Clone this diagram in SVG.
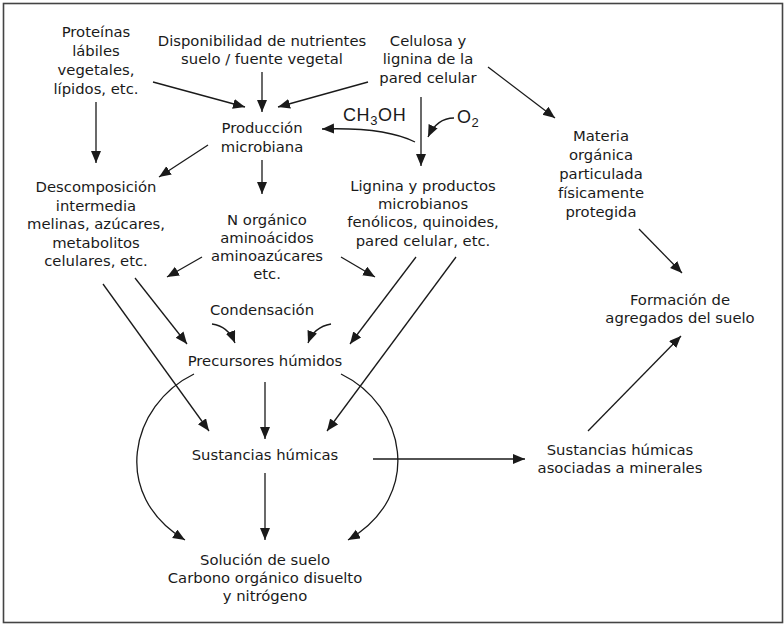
<svg xmlns="http://www.w3.org/2000/svg" width="784" height="625" viewBox="0 0 784 625">
  <style>
    .t { font-family: "DejaVu Sans", "Liberation Sans", sans-serif; font-size: 14.8px; fill: #1a1a1a; text-anchor: middle; }
    .chem { font-family: "Liberation Sans", Arial, sans-serif; font-size: 18px; letter-spacing: 0.6px; fill: #1a1a1a; }
    .c { fill: none; stroke: #1a1a1a; stroke-width: 1.3; marker-end: url(#ah); }
  </style>
  <defs>
    <marker id="ah" markerUnits="userSpaceOnUse" markerWidth="13" markerHeight="11" refX="12" refY="5" orient="auto">
      <path d="M0,0 L12,5 L0,10 z" fill="#1a1a1a"/>
    </marker>
  </defs>

  <rect x="3.5" y="3.5" width="779" height="619" fill="#ffffff" stroke="#444" stroke-width="1.6"/>

  <g id="proteinas">
    <text class="t" x="96" y="37">Proteínas</text>
    <text class="t" x="96" y="56">lábiles</text>
    <text class="t" x="96" y="75">vegetales,</text>
    <text class="t" x="96" y="94">lípidos, etc.</text>
  </g>
  <g id="disponibilidad">
    <text class="t" x="262" y="46">Disponibilidad de nutrientes</text>
    <text class="t" x="262" y="64">suelo / fuente vegetal</text>
  </g>
  <g id="celulosa">
    <text class="t" x="428" y="46">Celulosa y</text>
    <text class="t" x="428" y="64">lignina de la</text>
    <text class="t" x="428" y="83">pared celular</text>
  </g>
  <g id="produccion">
    <text class="t" x="262" y="133">Producción</text>
    <text class="t" x="262" y="152">microbiana</text>
  </g>
  <g id="ch3oh">
    <text class="chem" x="343" y="121">CH<tspan font-size="13" dy="4">3</tspan><tspan dy="-4">OH</tspan></text>
  </g>
  <g id="o2">
    <text class="chem" x="457" y="123">O<tspan font-size="13" dy="4">2</tspan></text>
  </g>
  <g id="materia">
    <text class="t" x="601" y="141">Materia</text>
    <text class="t" x="601" y="160">orgánica</text>
    <text class="t" x="601" y="179">particulada</text>
    <text class="t" x="601" y="198">físicamente</text>
    <text class="t" x="601" y="217">protegida</text>
  </g>
  <g id="descomposicion">
    <text class="t" x="96" y="192">Descomposición</text>
    <text class="t" x="96" y="211">intermedia</text>
    <text class="t" x="96" y="229">melinas, azúcares,</text>
    <text class="t" x="96" y="248">metabolitos</text>
    <text class="t" x="96" y="266">celulares, etc.</text>
  </g>
  <g id="n-organico">
    <text class="t" x="267" y="225">N orgánico</text>
    <text class="t" x="267" y="243">aminoácidos</text>
    <text class="t" x="267" y="261">aminoazúcares</text>
    <text class="t" x="267" y="279">etc.</text>
  </g>
  <g id="lignina">
    <text class="t" x="423" y="191">Lignina y productos</text>
    <text class="t" x="423" y="209">microbianos</text>
    <text class="t" x="423" y="227">fenólicos, quinoides,</text>
    <text class="t" x="423" y="246">pared celular, etc.</text>
  </g>
  <g id="formacion">
    <text class="t" x="680" y="305">Formación de</text>
    <text class="t" x="680" y="323">agregados del suelo</text>
  </g>
  <g id="condensacion">
    <text class="t" x="262" y="315">Condensación</text>
  </g>
  <g id="precursores">
    <text class="t" x="265" y="366">Precursores húmidos</text>
  </g>
  <g id="sustancias">
    <text class="t" x="265" y="460">Sustancias húmicas</text>
  </g>
  <g id="asociadas">
    <text class="t" x="620" y="455">Sustancias húmicas</text>
    <text class="t" x="620" y="473">asociadas a minerales</text>
  </g>
  <g id="solucion">
    <text class="t" x="265" y="565">Solución de suelo</text>
    <text class="t" x="265" y="583">Carbono orgánico disuelto</text>
    <text class="t" x="265" y="601">y nitrógeno</text>
  </g>

  <g id="connectors">
    <line class="c" x1="96" y1="102" x2="96" y2="163"/>
    <line class="c" x1="153" y1="82" x2="245" y2="107"/>
    <line class="c" x1="262" y1="72" x2="262" y2="112"/>
    <line class="c" x1="368" y1="82" x2="278" y2="107"/>
    <line class="c" x1="488" y1="67" x2="555" y2="118"/>
    <line class="c" x1="421" y1="97" x2="421" y2="166"/>
    <path class="c" d="M415,142 Q385,127 322,129"/>
    <path class="c" d="M454,118 Q437,118 428,137"/>
    <line class="c" x1="208" y1="145" x2="159" y2="177"/>
    <line class="c" x1="262" y1="160" x2="262" y2="194"/>
    <line class="c" x1="202" y1="257" x2="167" y2="277"/>
    <line class="c" x1="341" y1="257" x2="375" y2="277"/>
    <line class="c" x1="103" y1="284" x2="209" y2="431"/>
    <line class="c" x1="135" y1="278" x2="187" y2="344"/>
    <path class="c" d="M212,324 Q228,326 235,343"/>
    <path class="c" d="M331,324 Q314,327 308,343"/>
    <line class="c" x1="416" y1="257" x2="350" y2="344"/>
    <line class="c" x1="456" y1="257" x2="327" y2="431"/>
    <line class="c" x1="639" y1="229" x2="682" y2="273"/>
    <line class="c" x1="588" y1="431" x2="681" y2="336"/>
    <line class="c" x1="265" y1="382" x2="265" y2="439"/>
    <line class="c" x1="265" y1="473" x2="265" y2="540"/>
    <line class="c" x1="373" y1="459" x2="525" y2="459"/>
    <path class="c" d="M194,374 C130,405 110,495 185,540"/>
    <path class="c" d="M341,374 C405,405 425,495 348,540"/>
  </g>
</svg>
